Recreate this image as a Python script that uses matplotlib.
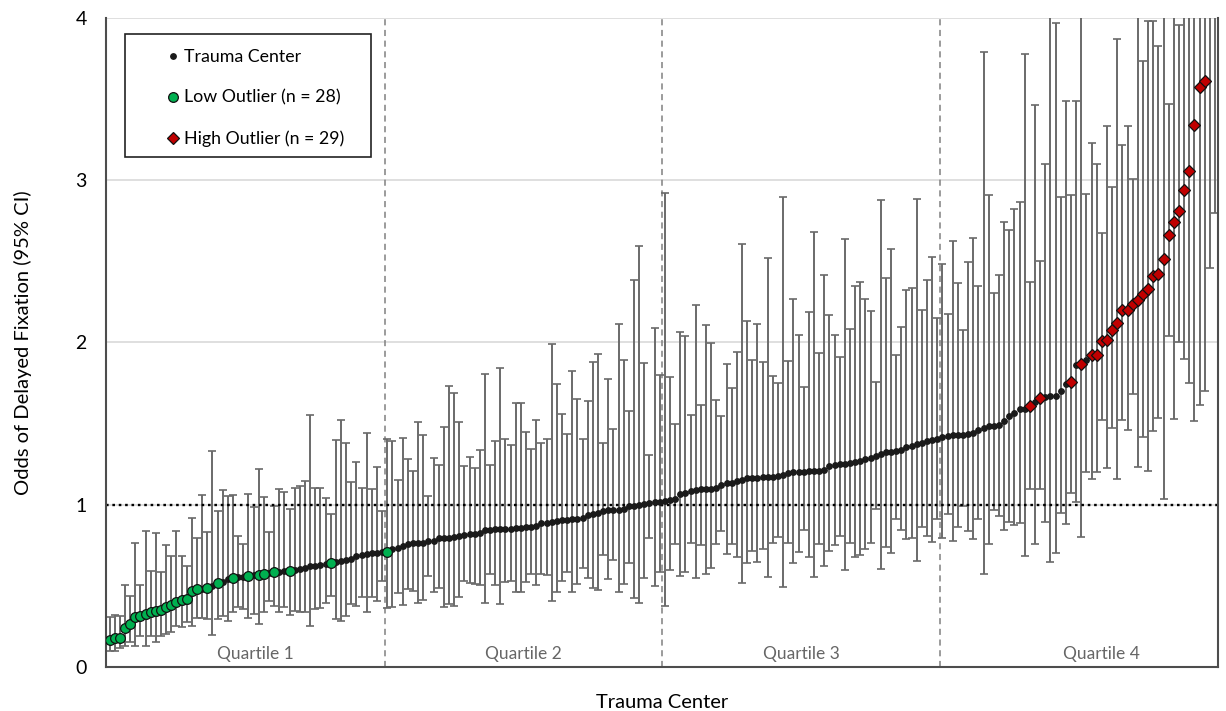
"""
Odds of delayed fixation by trauma center, sorted, with 95% CI and outliers.
"""

import matplotlib as mpl

mpl.use("Agg")
import matplotlib.pyplot as plt
import numpy as np
from matplotlib.lines import Line2D
from matplotlib.patches import Rectangle


# point estimate per trauma center (sorted ascending)
ODDS = [
    0.168, 0.176, 0.18, 0.238, 0.265, 0.306, 0.312, 0.326, 0.34, 0.346,
    0.352, 0.367, 0.381, 0.40, 0.414, 0.418, 0.466, 0.48, 0.483, 0.486,
    0.50, 0.517, 0.525, 0.54, 0.548, 0.552, 0.555, 0.558, 0.565, 0.568,
    0.572, 0.577, 0.583, 0.586, 0.59, 0.593, 0.598, 0.607, 0.613, 0.62,
    0.624, 0.628, 0.632, 0.638, 0.645, 0.654, 0.66, 0.665, 0.685, 0.69,
    0.698, 0.70, 0.703, 0.706, 0.71, 0.726, 0.732, 0.747, 0.757, 0.767,
    0.767, 0.767, 0.777, 0.777, 0.792, 0.796, 0.796, 0.802, 0.808, 0.812,
    0.818, 0.822, 0.828, 0.843, 0.845, 0.849, 0.85, 0.85, 0.852, 0.855,
    0.857, 0.862, 0.865, 0.87, 0.885, 0.89, 0.893, 0.90, 0.905, 0.908,
    0.91, 0.915, 0.92, 0.935, 0.945, 0.95, 0.96, 0.968, 0.968, 0.97,
    0.972, 0.99, 0.995, 1.0, 1.003, 1.01, 1.015, 1.017, 1.02, 1.03,
    1.035, 1.065, 1.075, 1.085, 1.088, 1.10, 1.10, 1.10, 1.105, 1.12,
    1.137, 1.137, 1.145, 1.155, 1.165, 1.167, 1.167, 1.17, 1.17, 1.172,
    1.178, 1.185, 1.195, 1.2, 1.202, 1.202, 1.205, 1.205, 1.208, 1.215,
    1.24, 1.245, 1.249, 1.25, 1.258, 1.264, 1.272, 1.282, 1.29, 1.30,
    1.312, 1.322, 1.325, 1.33, 1.34, 1.356, 1.365, 1.376, 1.383, 1.39,
    1.397, 1.405, 1.42, 1.426, 1.428, 1.43, 1.432, 1.433, 1.44, 1.46,
    1.47, 1.485, 1.488, 1.49, 1.518, 1.544, 1.565, 1.588, 1.593, 1.61,
    1.634, 1.655, 1.665, 1.668, 1.672, 1.698, 1.742, 1.756, 1.86, 1.865,
    1.89, 1.925, 1.925, 2.008, 2.013, 2.08, 2.12, 2.2, 2.2, 2.236,
    2.26, 2.30, 2.33, 2.41, 2.42, 2.517, 2.66, 2.74, 2.81, 2.94,
    3.06, 3.34, 3.575, 3.61, 4.3, 4.9,
]

CI_LOW = [
    0.10, 0.10, 0.12, 0.131, 0.152, 0.131, 0.193, 0.131, 0.193, 0.152,
    0.193, 0.203, 0.213, 0.254, 0.244, 0.275, 0.254, 0.30, 0.30, 0.295,
    0.197, 0.295, 0.316, 0.285, 0.336, 0.367, 0.357, 0.30, 0.326, 0.265,
    0.336, 0.408, 0.377, 0.336, 0.367, 0.32, 0.347, 0.34, 0.336, 0.254,
    0.357, 0.361, 0.394, 0.439, 0.295, 0.285, 0.316, 0.388, 0.377, 0.429,
    0.34, 0.429, 0.408, 0.531, 0.361, 0.367, 0.459, 0.382, 0.48, 0.47,
    0.394, 0.414, 0.562, 0.464, 0.484, 0.367, 0.388, 0.377, 0.429, 0.531,
    0.517, 0.511, 0.505, 0.394, 0.572, 0.505, 0.388, 0.521, 0.531, 0.46,
    0.46, 0.521, 0.572, 0.505, 0.572, 0.566, 0.408, 0.46, 0.531, 0.583,
    0.46, 0.511, 0.613, 0.546, 0.484, 0.476, 0.689, 0.542, 0.66, 0.464,
    0.511, 0.638, 0.423, 0.394, 0.546, 0.792, 0.50, 0.583, 0.373, 0.599,
    0.761, 0.562, 0.583, 0.767, 0.546, 0.753, 0.576, 0.613, 0.757, 0.839,
    0.695, 0.757, 0.679, 0.515, 0.64, 0.716, 0.644, 0.73, 0.552, 0.767,
    0.804, 0.49, 0.767, 0.638, 0.71, 0.843, 0.675, 0.552, 0.761, 0.624,
    0.716, 0.753, 0.808, 0.599, 0.767, 0.679, 0.689, 0.73, 0.763, 0.972,
    0.607, 0.74, 0.703, 0.915, 0.842, 0.791, 0.798, 0.656, 0.863, 0.806,
    0.77, 0.915, 0.798, 0.94, 0.778, 0.863, 0.992, 0.837, 0.791, 0.91,
    0.571, 0.76, 0.966, 0.928, 0.842, 0.894, 0.876, 0.889, 0.682, 1.096,
    0.76, 1.10, 0.894, 0.649, 0.70, 0.95, 0.881, 1.07, 1.018, 0.80,
    1.199, 1.16, 1.199, 1.522, 1.225, 1.47, 1.16, 1.522, 1.463, 1.682,
    1.23, 1.42, 1.21, 1.454, 1.537, 1.034, 2.041, 1.526, 2.0, 1.897,
    1.75, 1.516, 1.614, 1.703, 2.457, 2.80,
]

CI_HIGH = [
    0.306, 0.32, 0.312, 0.505, 0.44, 0.767, 0.505, 0.839, 0.593, 0.825,
    0.583, 0.753, 0.685, 0.839, 0.685, 0.624, 0.921, 0.792, 1.058, 0.833,
    1.331, 0.962, 1.089, 1.054, 1.06, 0.808, 0.757, 1.069, 0.987, 1.218,
    1.05, 0.833, 0.993, 1.10, 1.081, 0.972, 1.106, 1.116, 1.147, 1.551,
    1.106, 1.106, 1.044, 0.942, 1.397, 1.522, 1.383, 1.141, 1.264, 1.106,
    1.44, 1.095, 1.235, 0.962, 1.403, 1.393, 1.153, 1.409, 1.28, 1.208,
    1.51, 1.428, 1.054, 1.286, 1.245, 1.481, 1.731, 1.69, 1.512, 1.239,
    1.294, 1.229, 1.337, 1.803, 1.245, 1.39, 1.844, 1.403, 1.368, 1.625,
    1.625, 1.45, 1.346, 1.52, 1.383, 1.407, 1.988, 1.742, 1.561, 1.434,
    1.824, 1.653, 1.407, 1.639, 1.881, 1.932, 1.383, 1.772, 1.465, 2.115,
    1.889, 1.577, 2.388, 2.593, 1.871, 1.305, 2.09, 1.799, 2.92, 1.789,
    1.50, 2.064, 2.039, 1.552, 2.228, 1.612, 2.105, 1.998, 1.643, 1.547,
    1.865, 1.721, 1.941, 2.609, 2.131, 1.895, 2.117, 1.879, 2.521, 1.793,
    1.752, 2.896, 1.885, 2.265, 2.045, 1.727, 2.189, 2.679, 1.936, 2.418,
    2.172, 2.049, 1.912, 2.638, 2.086, 2.351, 2.371, 2.271, 2.193, 1.756,
    2.876, 2.395, 2.574, 1.922, 2.096, 2.323, 2.336, 2.886, 2.199, 2.388,
    2.525, 2.15, 2.486, 2.173, 2.625, 2.367, 2.078, 2.499, 2.641, 2.349,
    3.788, 2.912, 2.302, 2.419, 2.744, 2.693, 2.822, 2.866, 3.775, 2.37,
    3.465, 2.504, 3.103, 4.3, 3.97, 2.897, 3.49, 2.91, 3.486, 4.4,
    2.917, 3.227, 3.098, 2.677, 3.336, 2.961, 3.873, 3.22, 3.336, 3.009,
    4.5, 3.737, 3.98, 3.979, 3.826, 5.0, 3.471, 4.6, 3.955, 4.8,
    5.2, 5.5, 6.0, 6.2, 7.5, 8.0,
]

# 1-based positions of the flagged centers
LOW_OUTLIERS = [1, 2, 3, 4, 5, 6, 7, 8, 9, 10, 11, 12, 13, 14, 15, 16, 17, 18,
                20, 22, 25, 28, 30, 31, 33, 36, 44, 55]
HIGH_OUTLIERS = [180, 182, 188, 190, 192, 193, 194, 195, 196, 197, 198, 199,
                 200, 201, 202, 203, 204, 205, 206, 207, 208, 209, 210, 211,
                 212, 213, 214, 215, 216]

QUARTILE_BREAKS = [54.5, 108.5, 162.5]
QUARTILE_LABELS = ["Quartile 1", "Quartile 2", "Quartile 3", "Quartile 4"]
QUARTILE_LABEL_X = [29.3, 81.5, 135.5, 194.0]
Y_TICKS = [0, 1, 2, 3, 4]

FONT = ["Lato", "DejaVu Sans"]
GREEN = "#00b050"
RED = "#c00000"
BAR_GRAY = "#6a6a6a"


def main():
    plt.rcParams["font.family"] = FONT

    odds = np.array(ODDS)
    low = np.array(CI_LOW)
    high = np.array(CI_HIGH)
    x = np.arange(1, len(odds) + 1)

    is_low = np.isin(x, LOW_OUTLIERS)
    is_high = np.isin(x, HIGH_OUTLIERS)
    is_normal = ~(is_low | is_high)

    fig = plt.figure(figsize=(12.26, 7.11), dpi=100)
    ax = fig.add_axes([0.0865, 0.0619, 0.907, 0.9128])

    ax.set_xlim(0.3, 216.6)
    ax.set_ylim(0, 4)
    ax.set_yticks(Y_TICKS)
    ax.set_xticks([])
    ax.yaxis.grid(True, color="#d9d9d9", linewidth=1.2)
    ax.set_axisbelow(True)

    for spine in ("left", "bottom", "right"):
        ax.spines[spine].set_color("#4d4d4d")
        ax.spines[spine].set_linewidth(1.5)
    ax.spines["top"].set_visible(False)
    ax.tick_params(axis="y", length=0, pad=14, labelsize=14)

    for b in QUARTILE_BREAKS:
        ax.axvline(b, color="#808080", linestyle=(0, (4, 3)), linewidth=1.1, zorder=1.5)

    ax.axhline(1, color="black", linestyle=(0, (1.1, 1.6)), linewidth=1.7, zorder=2.5)

    ax.errorbar(x, odds, yerr=[odds - low, high - odds], fmt="none",
                ecolor=BAR_GRAY, elinewidth=1.4, capsize=3, capthick=1.2, zorder=2)

    ax.plot(x[is_normal], odds[is_normal], "o", ms=3.9, color="#1a1a1a",
            mec="#1a1a1a", zorder=3)
    ax.plot(x[is_low], odds[is_low], "o", ms=7, mfc=GREEN, mec="#111111",
            mew=0.9, zorder=4)
    ax.plot(x[is_high], odds[is_high], "D", ms=6.3, mfc=RED, mec="#111111",
            mew=0.9, zorder=4)

    for lx, label in zip(QUARTILE_LABEL_X, QUARTILE_LABELS):
        ax.text(lx, 0.08, label, ha="center", va="center", fontsize=12.5, color="#666666")

    ax.set_ylabel("Odds of Delayed Fixation (95% CI)", fontsize=14.5)
    ax.yaxis.set_label_coords(-0.0665, 0.5)
    ax.set_xlabel("Trauma Center", fontsize=14.5)
    ax.xaxis.set_label_coords(0.5, -0.041)

    # legend box
    ax.add_patch(Rectangle((0.0171, 0.7858), 0.2212, 0.1895, transform=ax.transAxes,
                           facecolor="white", edgecolor="#222222", linewidth=1.2,
                           zorder=5))
    handles = [
        Line2D([], [], marker="o", ls="none", ms=3.9, color="#1a1a1a"),
        Line2D([], [], marker="o", ls="none", ms=7, mfc=GREEN, mec="#111111", mew=0.9),
        Line2D([], [], marker="D", ls="none", ms=6.3, mfc=RED, mec="#111111", mew=0.9),
    ]
    labels = ["Trauma Center", "Low Outlier (n = 28)", "High Outlier (n = 29)"]
    leg = ax.legend(handles, labels, loc="upper left", bbox_to_anchor=(0.0387, 0.9753),
                    borderaxespad=0, frameon=False, fontsize=12.8, borderpad=0.85,
                    handlelength=1.0, handletextpad=0.1, labelspacing=1.38)
    leg.set_zorder(6)

    fig.savefig("out.png", dpi=100)
    plt.close(fig)


if __name__ == "__main__":
    main()
